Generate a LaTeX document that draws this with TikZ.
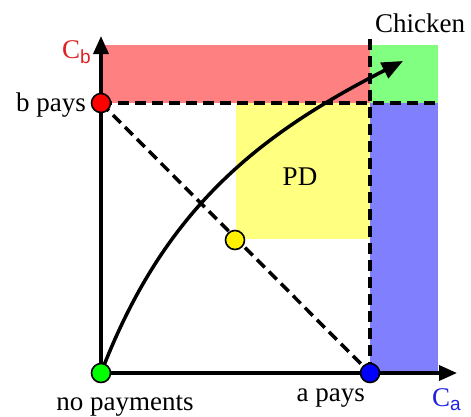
\documentclass[tikz,border=0pt]{standalone}
\usepackage{fontspec}
\setmainfont{Liberation Serif}
\newfontfamily\subsf{Liberation Sans}
\usetikzlibrary{arrows.meta}
\definecolor{rfill}{HTML}{FF8080}
\definecolor{gfill}{HTML}{80FF80}
\definecolor{bfill}{HTML}{8080FF}
\definecolor{yfill}{HTML}{FFFF80}
\definecolor{cbred}{HTML}{E02020}
\definecolor{cablue}{HTML}{2020E0}
\begin{document}
\begin{tikzpicture}[x=1pt,y=-1pt,
  lbl/.style={font=\fontsize{27}{30}\selectfont, inner sep=0pt},
  dashline/.style={line width=3.5pt, dash pattern=on 11pt off 6pt},
  axis/.style={line width=3.5pt, -{Triangle[length=18pt,width=15pt]}},
  dot/.style={circle, draw=black, line width=1.6pt, minimum size=19pt, inner sep=0pt}]
\useasboundingbox (0,0) rectangle (471,416);
% regions
\fill[rfill] (103,45) rectangle (370,103);
\fill[gfill] (370,45) rectangle (438,103);
\fill[bfill] (370,103) rectangle (438,373);
\fill[yfill] (236,103) rectangle (370,239);
% points
\coordinate (O) at (101,373);
\coordinate (B) at (101,103);
\coordinate (A) at (370,373);
\coordinate (M) at (235,240);
\coordinate (ytip) at (101,36);
\coordinate (xtip) at (457,373);
\coordinate (vtop) at (370,37);
\coordinate (hend) at (438,103);
\coordinate (ctip) at (403,61);
% dashed lines
\draw[dashline] (B) -- (hend);
\draw[dashline] (A) -- (vtop);
\draw[dashline] (B) -- (A);
% axes
\draw[axis] (O) -- (ytip);
\draw[axis] (O) -- (xtip);
% curve
\draw[line width=3.5pt, -{Triangle[length=21pt,width=17pt]}] (O) to[out=69,in=207] (ctip);
% dots
\node[dot, fill=red] (bpt) at (B) {};
\node[dot, fill=green] (opt) at (O) {};
\node[dot, fill=blue] (apt) at (A) {};
\node[dot, fill=yellow] (mpt) at (M) {};
% labels
\node[lbl, anchor=base] (chicken) at (420,32) {Chicken};
\node[lbl, anchor=base] (pd) at (300,185) {PD};
\node[lbl, anchor=base east] (bpays) at (86,111) {b pays};
\node[lbl, anchor=base east] (apays) at (365,401) {a pays};
\node[lbl, anchor=base] (nopay) at (125,410) {no payments};
\node[lbl, anchor=base west, text=cbred] (cb) at (62,58) {C\raisebox{-0.2em}{\subsf\fontsize{19}{19}\selectfont b}};
\node[lbl, anchor=base west, text=cablue] (ca) at (432,406) {C\raisebox{-0.15em}{\subsf\fontsize{19}{19}\selectfont a}};
\end{tikzpicture}
\end{document}
